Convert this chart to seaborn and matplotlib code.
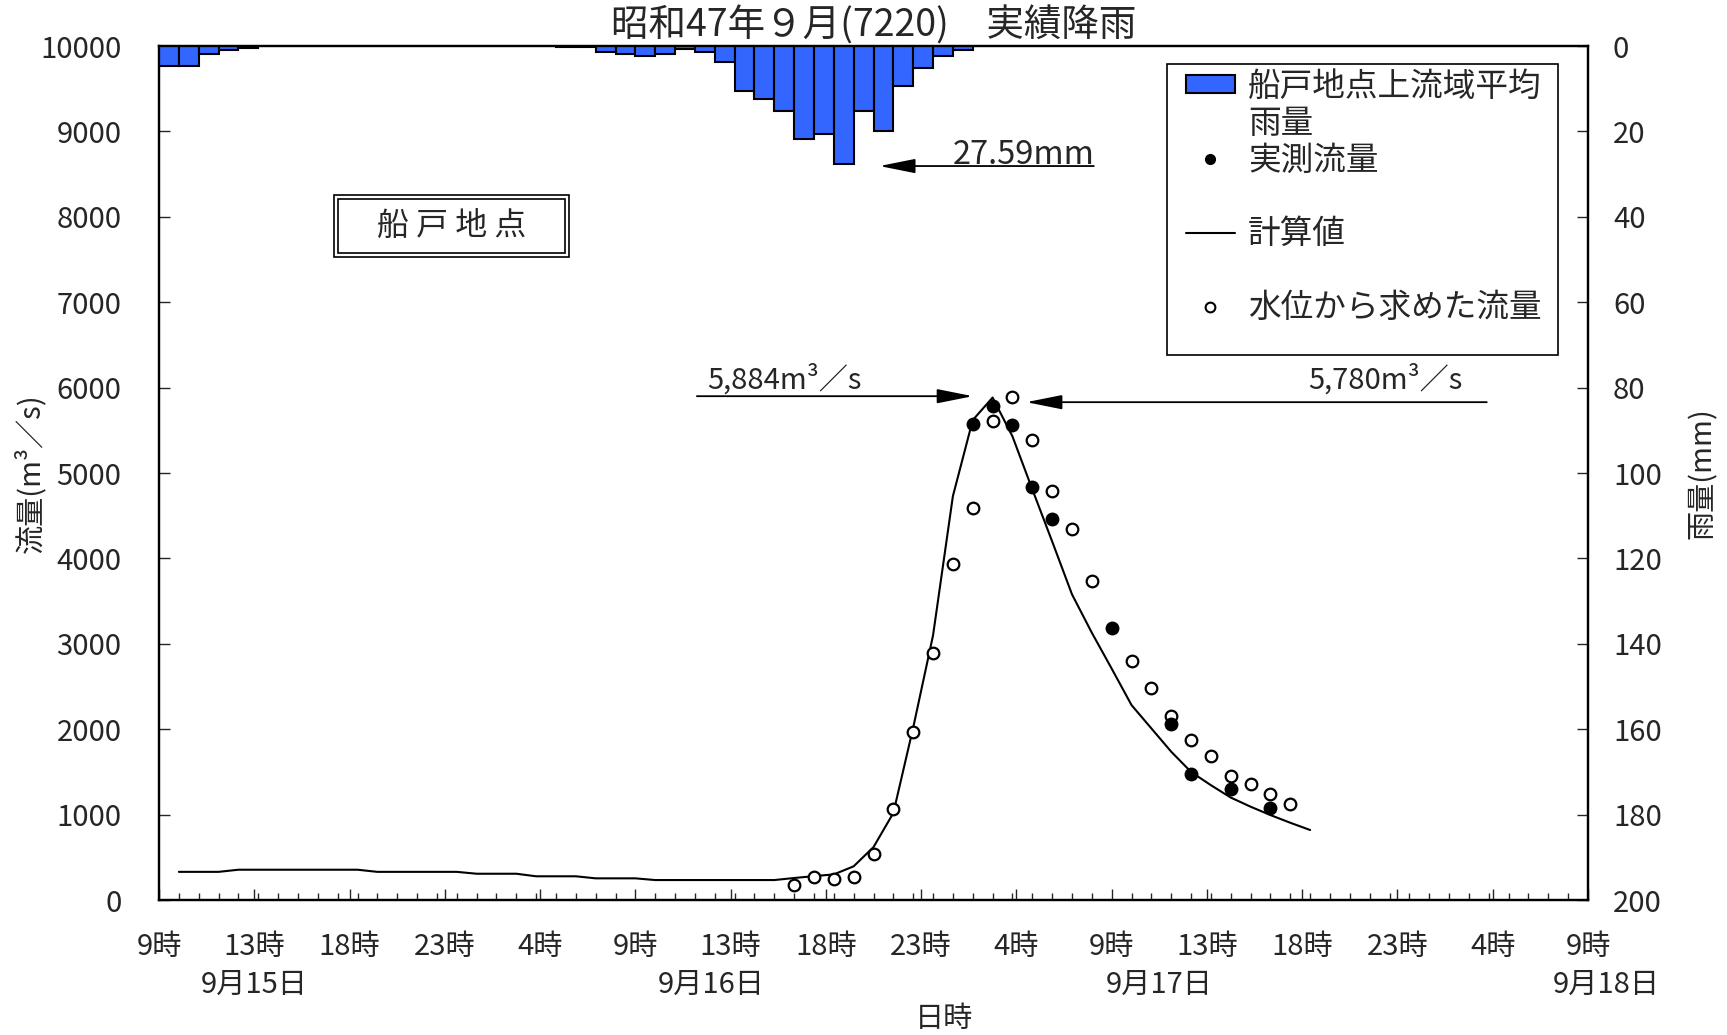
import numpy as np
import pandas as pd
import matplotlib
matplotlib.use('Agg')
import matplotlib.pyplot as plt
from matplotlib.lines import Line2D
from matplotlib.patches import Patch, Rectangle
from matplotlib.transforms import blended_transform_factory
import seaborn as sns

# hours counted from 9時 on 9月15日
rain_hours = [0, 1, 2, 3, 4, 20, 21, 22, 23, 24, 25, 26, 27, 28, 29, 30,
              31, 32, 33, 34, 35, 36, 37, 38, 39, 40]
rain_mm = [4.6, 4.6, 1.9, 0.9, 0.4, 0.3, 0.3, 1.3, 1.8, 2.4, 1.8, 0.6, 1.3,
           3.7, 10.5, 12.3, 15.1, 21.8, 20.7, 27.59, 15.1, 19.8, 9.4, 5.2,
           2.4, 0.9]

calc_hours = list(range(1, 59))
calc_flow = [330, 330, 330, 355, 355, 355, 355, 355, 355, 355,
             330, 330, 330, 330, 330, 308, 308, 308, 278, 278,
             278, 254, 254, 254, 234, 234, 234, 234, 234, 234,
             234, 258, 280, 300, 395, 620, 1020, 2020, 3100, 4730,
             5620, 5884, 5430, 4810, 4200, 3580, 3130, 2710, 2283, 2010,
             1737, 1500, 1345, 1200, 1093, 995, 905, 820]

obs_hours = [41, 42, 43, 44, 45, 48, 51, 52, 54, 56]
obs_flow = [5570, 5780, 5560, 4840, 4460, 3180, 2060, 1475, 1305, 1073]

wl_hours = [32, 33, 34, 35, 36, 37, 38, 39, 40, 41, 42, 43, 44, 45, 46, 47,
            49, 50, 51, 52, 53, 54, 55, 56, 57]
wl_flow = [176, 273, 246, 273, 540, 1065, 1962, 2890, 3940, 4585, 5615, 5895,
           5382, 4788, 4346, 3732, 2795, 2480, 2157, 1874, 1688, 1450, 1357,
           1241, 1124]

hour_labels = ['9時', '13時', '18時', '23時', '4時', '9時', '13時', '18時',
               '23時', '4時', '9時', '13時', '18時', '23時', '4時', '9時']
date_labels = ['9月15日', '9月16日', '9月17日', '9月18日']
date_hours = [4.8, 27.8, 50.4, 72.9]

sns.set_style('ticks')
plt.rcParams['font.family'] = ['Noto Sans CJK JP', 'DejaVu Sans']

fig = plt.figure(figsize=(17.27, 10.35), dpi=100)
ax = fig.add_axes([0.0921, 0.1304, 0.8274, 0.8251])
ax2 = ax.twinx()

# rainfall hanging from the top
ax2.bar(rain_hours, rain_mm, width=1, align='edge', color='#3366ff',
        edgecolor='black', linewidth=1.5)
ax2.set_ylim(200, 0)
ax2.set_yticks(np.arange(0, 201, 20))

calc = pd.DataFrame({'hour': calc_hours, 'flow': calc_flow})
sns.lineplot(data=calc, x='hour', y='flow', ax=ax, color='black', lw=1.5)
sns.scatterplot(x=wl_hours, y=wl_flow, ax=ax, s=70, facecolor='white',
                edgecolor='black', linewidth=1.6, zorder=3)
sns.scatterplot(x=obs_hours, y=obs_flow, ax=ax, s=100, color='black',
                edgecolor='black', linewidth=0, zorder=4)

ax.set_xlim(0, 72)
ax.set_ylim(0, 10000)
ax.set_yticks(np.arange(0, 10001, 1000))
ax.set_xticks(np.arange(16) * 4.8)
ax.set_xticklabels(hour_labels)
ax.set_xticks(np.arange(73), minor=True)

ax.tick_params(axis='x', which='major', direction='in', length=8, width=1,
               pad=23, labelsize=21)
ax.tick_params(axis='x', which='minor', direction='in', length=5, width=1)
ax.tick_params(axis='y', direction='in', length=8, width=1, pad=27,
               labelsize=21)
ax2.tick_params(axis='y', direction='in', length=8, width=1, pad=18,
                labelsize=21)
for a in (ax, ax2):
    for sp in a.spines.values():
        sp.set_linewidth(1.6)
        sp.set_color('black')

trans = blended_transform_factory(ax.transData, ax.transAxes)
for lab, h in zip(date_labels, date_hours):
    ax.text(h, -0.099, lab, transform=trans, ha='center', va='center',
            fontsize=21)

ax.set_xlabel('日時', fontsize=21)
ax.xaxis.set_label_coords(0.549, -0.122)
ax.set_ylabel('流量(m³／s)', fontsize=21)
ax.yaxis.set_label_coords(-0.079, 0.5)
ax2.set_ylabel('雨量(mm)', fontsize=21, rotation=90)
ax2.yaxis.set_label_coords(1.07, 0.5)
ax.set_title('昭和47年９月(7220)　実績降雨', fontsize=27, pad=5)

arrow = dict(arrowstyle='-|>,head_length=1.1,head_width=0.22', color='black',
             lw=1.3, mutation_scale=20, shrinkA=0, shrinkB=0)
ax.annotate('', xy=(41.0, 5900), xytext=(27.1, 5900), arrowprops=arrow)
ax.text(27.6, 5990, '5,884m³／s', fontsize=21, va='baseline')
ax.annotate('', xy=(43.7, 5830), xytext=(66.9, 5830), arrowprops=arrow)
ax.text(57.9, 5990, '5,780m³／s', fontsize=21, va='baseline')
ax2.annotate('', xy=(36.3, 28.1), xytext=(47.1, 28.1), arrowprops=arrow)
ax2.text(40.0, 27.6, '27.59mm', fontsize=23.5, va='baseline')

# station name in a double frame
ax.add_patch(Rectangle((0.1222, 0.7534), 0.1649, 0.0721, transform=ax.transAxes,
                       fill=False, lw=1.2, ec='black'))
ax.add_patch(Rectangle((0.1250, 0.7581), 0.1593, 0.0627, transform=ax.transAxes,
                       fill=False, lw=1.2, ec='black'))
ax.text(0.2046, 0.789, '船 戸 地 点', transform=ax.transAxes, ha='center',
        va='center', fontsize=23)

blank = Line2D([], [], color='none')
handles = [Patch(facecolor='#3366ff', edgecolor='black', linewidth=1.5), blank,
           Line2D([], [], ls='none', marker='o', color='black', ms=7), blank,
           Line2D([], [], color='black', lw=1.5), blank,
           Line2D([], [], ls='none', marker='o', mfc='white', mec='black',
                  mew=1.5, ms=7)]
labels = ['船戸地点上流域平均', '雨量', '実測流量', ' ', '計算値', ' ',
          '水位から求めた流量']
ax2.legend(handles, labels, loc='upper left', bbox_to_anchor=(0.7141, 0.9789),
           frameon=False, fontsize=23.5, borderaxespad=0, borderpad=0.2,
           labelspacing=0.15, handlelength=1.5, handleheight=0.5,
           handletextpad=0.4)
ax2.add_patch(Rectangle((0.7057, 0.6386), 0.2736, 0.3403,
                        transform=ax2.transAxes, fill=False, lw=1.2,
                        ec='black'))

fig.savefig('out.png', dpi=100)
